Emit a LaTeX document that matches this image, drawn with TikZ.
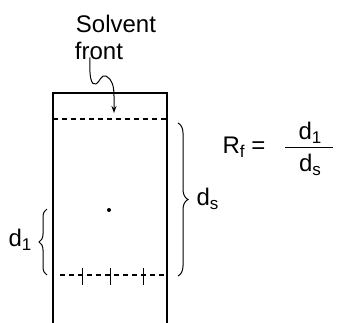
\documentclass[tikz,border=0pt]{standalone}
\usepackage{fontspec}
\setmainfont{Liberation Sans}
\usetikzlibrary{arrows.meta,decorations.pathreplacing}
\newcommand{\lowsub}[1]{\raisebox{-0.35ex}{\fontsize{17}{18}\selectfont #1}}
\begin{document}
\begin{tikzpicture}[x=1pt, y=-1pt, every node/.style={inner sep=0pt, font=\fontsize{24}{26}\selectfont}, every path/.style={line width=1.1pt}, front line/.style={dash pattern=on 5pt off 4pt}, curly/.style={decorate, decoration={brace, amplitude=#1}, line width=1pt}]
		\useasboundingbox (0,0) rectangle (343,322);
		% plate
		\coordinate (pbl) at (53,330);
		\coordinate (ptl) at (53,93);
		\coordinate (ptr) at (167,93);
		\coordinate (pbr) at (167,330);
		\draw (pbl) -- (ptl) -- (ptr) -- (pbr);
		% solvent front and start line
		\coordinate (sfl) at (53,119);
		\coordinate (sfr) at (167,119);
		\draw[front line] (sfl) -- (sfr);
		\coordinate (stl) at (60,275);
		\coordinate (str) at (164,275);
		\draw[front line] (stl) -- (str);
		\foreach \x in {82,110,143}
			\draw[line width=1pt] (\x,268) -- (\x,285);
		\node[circle, fill=black, minimum size=4pt] (spot) at (109,210) {};
		% labels
		\node (solvent) at (116,24) {Solvent};
		\node (front) at (99,51) {front};
		\coordinate (tip) at (114,113);
		\draw[-{Stealth[length=7pt,width=5pt]}, line width=1pt] ([xshift=-9pt,yshift=3pt]front.south) .. controls (89,76) and (91,86) .. (96,84) .. controls (100,82) and (101,74) .. (106,76) .. controls (112,79) and (114,86) .. (114,96) -- (tip);
		\draw[curly=8pt] (47,275) -- (47,209);
		\node[anchor=east] (d1) at (32,240) {d\lowsub{1}};
		\draw[curly=10pt] (178,123) -- (178,276);
		\node[anchor=west] (ds) at (196,199) {d\lowsub{s}};
		% formula
		\node[anchor=west] (rf) at (222,147) {R\lowsub{f} =};
		\node (num) at (310,133) {d\lowsub{1}};
		\node (den) at (310,165) {d\lowsub{s}};
		\draw[line width=1pt] (285,147) -- (333,147);
\end{tikzpicture}
\end{document}
